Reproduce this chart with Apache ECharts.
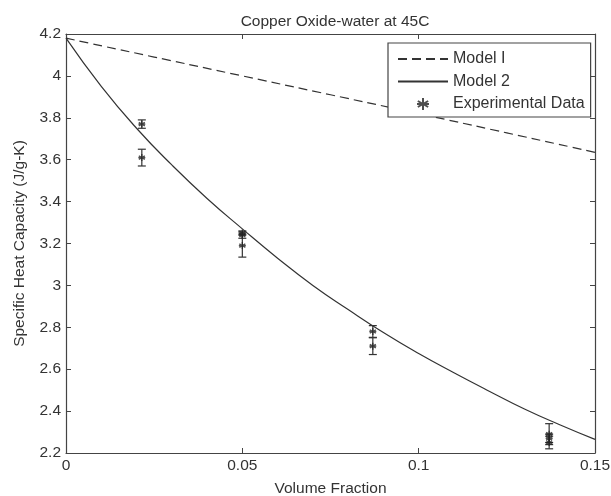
<!DOCTYPE html>
<html>
<head>
<meta charset="utf-8">
<script src="https://cdn.jsdelivr.net/npm/echarts@6/dist/echarts.min.js"></script>
<style>
html,body{margin:0;padding:0;background:#fff;}
#c{width:611px;height:496px;}
</style>
</head>
<body>
<div id="c"></div>
<script>
// ---- data ----
var titleText = "Copper Oxide-water at 45C";
var xName = "Volume Fraction";
var yName = "Specific Heat Capacity (J/g-K)";

var model1X = [0, 0.025, 0.05, 0.075, 0.1, 0.125, 0.15];
var model1Y = [4.18, 4.09, 4.0, 3.91, 3.82, 3.728, 3.635];

var model2X = [0, 0.01, 0.02, 0.03, 0.04, 0.05, 0.06, 0.07, 0.08, 0.09, 0.10, 0.11, 0.12, 0.13, 0.14, 0.15];
var model2Y = [4.18, 3.95, 3.75, 3.575, 3.415, 3.27, 3.13, 3.00, 2.885, 2.775, 2.675, 2.583, 2.495, 2.41, 2.335, 2.265];

var expX   = [0.0215, 0.0215, 0.05, 0.05, 0.05, 0.087, 0.087, 0.137, 0.137, 0.137];
var expY   = [3.77, 3.61, 3.25, 3.24, 3.19, 2.78, 2.71, 2.29, 2.27, 2.25];
var expErr = [0.02, 0.04, 0.01, 0.015, 0.055, 0.028, 0.04, 0.05, 0.02, 0.03];

var xTicks = [0, 0.05, 0.1, 0.15];
var yMin = 2.2, yMax = 4.2, yStep = 0.2;

// ---- build ----
function zip(a, b) { return a.map(function (v, i) { return [v, b[i]]; }); }
var errData = expX.map(function (x, i) { return [x, expY[i], expY[i] - expErr[i], expY[i] + expErr[i]]; });

var ink = '#333';
var font = 'Liberation Sans, Arial, sans-serif';
var star = 'path://M0,-5L0,5M-4.3,-2.5L4.3,2.5M-4.3,2.5L4.3,-2.5M-5,0L5,0';

var chart = echarts.init(document.getElementById('c'), null, {renderer: 'canvas'});
var axisCommon = {
  axisLine: {show: true, onZero: false, lineStyle: {color: '#444', width: 1.2}},
  axisTick: {show: true, inside: true, length: 5, lineStyle: {color: '#444'}},
  splitLine: {show: false}
};
chart.setOption({
  animation: false,
  backgroundColor: '#fff',
  title: {
    text: titleText, left: 330, top: 9, textAlign: 'center',
    textStyle: {fontFamily: font, fontSize: 15.5, fontWeight: 'normal', color: ink}
  },
  grid: {left: 66, right: 16, top: 34, bottom: 43, containLabel: false, outerBoundsMode: 'none'},
  legend: {
    orient: 'vertical', left: 388, top: 43,
    backgroundColor: '#fff',
    borderColor: '#444', borderWidth: 1.2,
    padding: [8, 6, 5, 9],
    itemWidth: 50, itemHeight: 12, itemGap: 6.5,
    textStyle: {fontFamily: font, fontSize: 16, color: ink},
    data: [
      {name: 'Model I', itemStyle: {opacity: 0}},
      {name: 'Model 2', itemStyle: {opacity: 0}},
      {name: 'Experimental Data', icon: star}
    ]
  },
  xAxis: [
    Object.assign({
      type: 'value', min: 0, max: 0.15, interval: 0.05,
      name: xName, nameLocation: 'middle', nameGap: 28,
      nameTextStyle: {fontFamily: font, fontSize: 15.5, color: ink},
      axisLabel: {fontFamily: font, fontSize: 15.5, color: ink, margin: 5,
        formatter: function (v) { return xTicks.indexOf(Math.round(v * 100) / 100) >= 0 ? String(Math.round(v * 100) / 100) : ''; }}
    }, axisCommon),
    Object.assign({
      type: 'value', min: 0, max: 0.15, interval: 0.05, position: 'top',
      axisLabel: {show: false}
    }, axisCommon)
  ],
  yAxis: [
    Object.assign({
      type: 'value', min: yMin, max: yMax, interval: yStep,
      name: yName, nameLocation: 'middle', nameGap: 38,
      nameTextStyle: {fontFamily: font, fontSize: 15.5, color: ink},
      axisLabel: {fontFamily: font, fontSize: 15.5, color: ink, margin: 5,
        formatter: function (v) { return String(Math.round(v * 10) / 10); }}
    }, axisCommon),
    Object.assign({
      type: 'value', min: yMin, max: yMax, interval: yStep, position: 'right',
      axisLabel: {show: false}
    }, axisCommon)
  ],
  series: [
    {
      name: 'Model I', type: 'line', data: zip(model1X, model1Y),
      symbol: 'none', smooth: true,
      lineStyle: {color: '#333', width: 1.2, type: [9, 5]},
      itemStyle: {color: '#333'}
    },
    {
      name: 'Model 2', type: 'line', data: zip(model2X, model2Y),
      symbol: 'none', smooth: true,
      lineStyle: {color: '#333', width: 1.2},
      itemStyle: {color: '#333'}
    },
    {
      name: 'errbars', type: 'custom', data: errData,
      renderItem: function (params, api) {
        var x = api.value(0);
        var lo = api.coord([x, api.value(2)]);
        var hi = api.coord([x, api.value(3)]);
        var w = 4;
        var st = {stroke: '#333', lineWidth: 1.2};
        return {type: 'group', children: [
          {type: 'line', shape: {x1: lo[0], y1: lo[1], x2: hi[0], y2: hi[1]}, style: st},
          {type: 'line', shape: {x1: lo[0] - w, y1: lo[1], x2: lo[0] + w, y2: lo[1]}, style: st},
          {type: 'line', shape: {x1: hi[0] - w, y1: hi[1], x2: hi[0] + w, y2: hi[1]}, style: st}
        ]};
      },
      z: 3
    },
    {
      name: 'Experimental Data', type: 'scatter', data: zip(expX, expY),
      symbol: star, symbolSize: 7,
      itemStyle: {color: '#222', borderColor: '#222', borderWidth: 1.3},
      z: 4
    }
  ]
});
</script>
</body>
</html>
